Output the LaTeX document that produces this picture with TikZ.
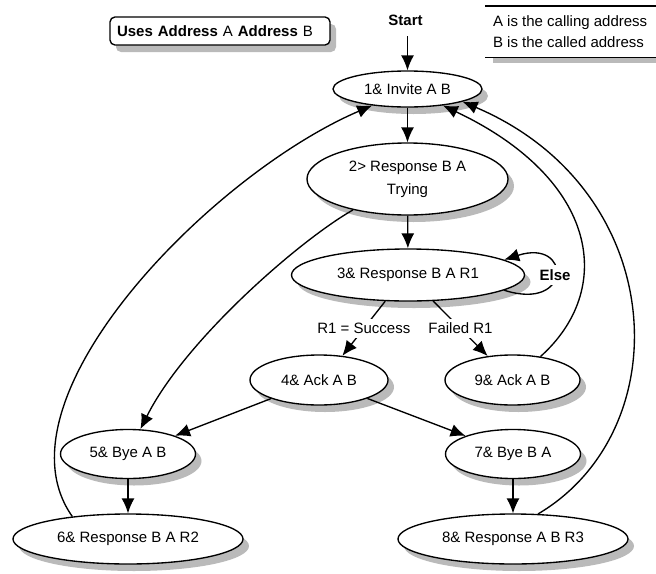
\documentclass[tikz,border=0pt]{standalone}
\usepackage{fontspec}
\setmainfont{Liberation Sans}
\usepackage{tikz}
\usetikzlibrary{arrows.meta,shapes.geometric,shadows}
\tikzset{>={Latex[length=15pt,width=13pt]}}
\tikzstyle{state}=[
	 ellipse, draw, fill=white,
	 inner sep=0pt, align=center,
	 drop shadow={shadow xshift=6pt,shadow yshift=-7pt,fill=black!27,opacity=1}
    ]
\tikzstyle{lbl}=[fill=white, inner sep=4pt]
\newcommand{\pBack}[4]{\draw[->] (#1) .. controls #2 and #3 .. (#4)}

\begin{document}
\begin{tikzpicture}[x=1pt,y=-1pt,line width=1.35pt,
  every node/.append style={font=\fontsize{15}{23}\selectfont}]
\useasboundingbox (0,0) rectangle (656,573);

\node[draw, rounded corners=5pt, fill=white, text width=206pt, align=left,
  inner xsep=7pt, minimum height=28pt,
  drop shadow={shadow xshift=6pt,shadow yshift=-7pt,fill=black!27,opacity=1}]
  (Uses) at (220,31) {\textbf{Uses Address} A \textbf{Address} B};

\node[inner ysep=10pt] (Start) at (405.5,20.5) {\textbf{Start}};

\fill[black!27] (493,58) rectangle (656,63);
\draw (485,6) -- (656,6);
\draw (485,57.5) -- (656,57.5);
\node[anchor=base west] (LegA) at (489,26) {A is the calling address};
\node[anchor=base west] (LegB) at (489,47) {B is the called address};

\node[state,minimum width=149pt,minimum height=36pt] (S1) at (407.5,89) {1\& Invite A B};
\node[state,minimum width=201pt,minimum height=72pt] (S2) at (407.5,179) {2> Response B A\\Trying};
\node[state,minimum width=233pt,minimum height=52pt] (S3) at (408,275) {3\& Response B A R1};
\node[state,minimum width=138pt,minimum height=50pt] (S4) at (319,380) {4\& Ack A B};
\node[state,minimum width=135pt,minimum height=50pt] (S9) at (512.5,380) {9\& Ack A B};
\node[state,minimum width=135pt,minimum height=49pt] (S5) at (128,454) {5\& Bye A B};
\node[state,minimum width=135pt,minimum height=49pt] (S7) at (513,454) {7\& Bye B A};
\node[state,minimum width=230pt,minimum height=50pt] (S6) at (128,539) {6\& Response B A R2};
\node[state,minimum width=230pt,minimum height=50pt] (S8) at (513,539) {8\& Response A B R3};

\draw[->] (Start.south -| S1) -- (S1);
\draw[->] (S1) -- (S2);
\draw[->] (S2) -- (S3);
\draw[->] (S3.229) -- node[lbl] {R1 = Success} (S4.46);
\draw[->] (S3.-46) -- node[lbl] {Failed R1} (S9.136);
\draw[->] (S3.-9) .. controls (572,312) and (572,238) .. node[lbl] {\textbf{Else}} (S3.9);
\draw[->] (S4) -- (S5);
\draw[->] (S4) -- (S7);
\draw[->] (S5) -- (S6);
\draw[->] (S7) -- (S8);
\draw[->] (S2) .. controls (300,240) and (185,340) .. (S5);

\pBack{S6.158}{(-10,400)}{(210,175)}{S1.205};
\pBack{S9.40}{(615,290)}{(600,180)}{S1.-25};
\pBack{S8.45}{(680,430)}{(670,190)}{S1.-13};

\end{tikzpicture}
\end{document}
